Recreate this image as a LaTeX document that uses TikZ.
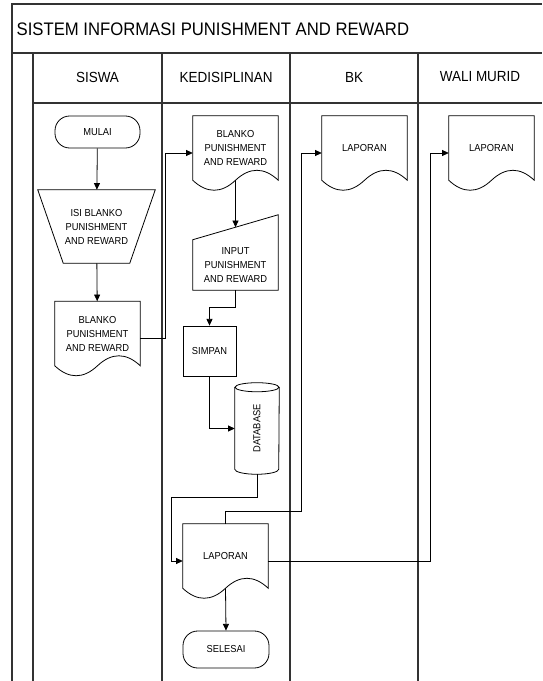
\documentclass[tikz,border=0pt]{standalone}
\usepackage{fontspec}
\setmainfont{Liberation Sans}[FakeStretch=0.92]
\usetikzlibrary{arrows.meta,calc}
% outlines drawn from the anchors of a plain node
\newcommand{\docoutline}[1]{%
  \draw[shp] (#1.south west) -- (#1.north west) -- (#1.north east) -- (#1.south east)
    .. controls ($(#1.south east)+(-14.2,-13.3)$) and ($(#1.south)+(14.2,-13.3)$) .. (#1.south)
    .. controls ($(#1.south)+(-14.2,13.3)$) and ($(#1.south west)+(14.2,13.3)$) .. (#1.south west) -- cycle;}
\newcommand{\inputoutline}[1]{%
  \draw[shp] (#1.south west) -- (#1.north west) -- ($(#1.north east)+(0,-25)$) -- (#1.south east) -- cycle;}
\newcommand{\trapoutline}[1]{%
  \draw[shp] (#1.north west) -- (#1.north east) -- ($(#1.south east)+(-25.5,0)$) -- ($(#1.south west)+(25.5,0)$) -- cycle;}
\newcommand{\dboutline}[1]{%
  \draw[shp] ($(#1.north west)+(0,4.5)$) -- ($(#1.south west)+(0,-5)$)
    arc[start angle=180, end angle=360, x radius=16.5pt, y radius=3.75pt] -- ($(#1.north east)+(0,4.5)$);
  \draw[shp] ($(#1.north)+(0,4.5)$) ellipse[x radius=16.5pt, y radius=3.4pt];}

\begin{document}
\begin{tikzpicture}[
  x=0.75pt, y=-0.75pt,
  font=\fontsize{7.6}{10.5}\selectfont,
  shp/.style={line width=0.6pt},
  lane/.style={line width=1pt, draw=black!80},
  head/.style={font=\fontsize{11}{13}\selectfont},
  term/.style={draw, line width=0.6pt, rounded corners=11pt, align=center, minimum width=63.75pt, minimum height=24pt},
  trap/.style={align=center, inner sep=0pt, minimum width=87.75pt, minimum height=54.75pt},
  doc/.style={align=center, inner sep=0pt, minimum width=63.75pt, minimum height=48pt},
  inp/.style={align=center, inner sep=0pt, minimum width=63.75pt, minimum height=37.5pt},
  proc/.style={draw, line width=0.6pt, align=center, minimum width=39.75pt, minimum height=37.5pt},
  db/.style={inner sep=0pt, minimum width=33pt, minimum height=68.25pt},
  arr/.style={-{Triangle[length=5pt, width=4.5pt]}, line width=0.6pt}]
\useasboundingbox (0,0) rectangle (542,681);
% pool and lanes
\draw[lane] (12,681) -- (12,4) -- (542,4);
\draw[lane] (12,53) -- (542,53);
\draw[lane] (33,103) -- (542,103);
\foreach \x in {33,162,290,418} \draw[lane] (\x,53) -- (\x,681);
\node[anchor=west, font=\fontsize{13.6}{15}\selectfont] (title) at (12,29) {SISTEM INFORMASI PUNISHMENT AND REWARD};
\node[head] (hSiswa) at (97.5,77) {SISWA};
\node[head] (hKedis) at (226,77) {KEDISIPLINAN};
\node[head] (hBK) at (354,77) {BK};
\node[head] (hWali) at (480,77) {WALI MURID};
% siswa
\node[term] (mulai) at (97.5,132) {MULAI};
\node[trap] (isi) at (96.5,226.5) {ISI BLANKO\\PUNISHMENT\\AND REWARD};
\node[doc] (blankoS) at (97.5,333.5) {BLANKO\\PUNISHMENT\\AND REWARD};
% kedisiplinan
\node[doc] (blankoK) at (235.5,148) {BLANKO\\PUNISHMENT\\AND REWARD};
\node[inp] (inputK) at (235.5,265) {INPUT\\PUNISHMENT\\AND REWARD};
\node[proc] (simpan) at (209.5,351) {SIMPAN};
\node[db] (db) at (257,428.5) {\rotatebox{90}{DATABASE}};
\node[doc] (lapK) at (225.5,556) {LAPORAN};
\node[term, minimum width=64.5pt, minimum height=27.75pt] (selesai) at (226,649.5) {SELESAI};
% bk, wali murid
\node[doc] (lapBK) at (364.5,148) {LAPORAN};
\node[doc] (lapWM) at (491.5,148) {LAPORAN};
\trapoutline{isi}
\docoutline{blankoS} \docoutline{blankoK} \docoutline{lapK} \docoutline{lapBK} \docoutline{lapWM}
\inputoutline{inputK}
\dboutline{db}
% flow
\draw[arr] (mulai) -- (isi);
\draw[arr] (isi) -- (blankoS);
\draw[arr] ($(blankoS.east)+(0,5)$) -- ++(25,0) |- ($(blankoK.west)+(0,5)$);
\draw[arr] (blankoK.south) -- ($(inputK.north)+(0,-12.5)$);
\draw[arr] (inputK.south) -- ++(0,17) -| (simpan.north);
\draw[arr] (simpan.south) |- (db.west);
\draw[arr] (db.south) -- ++(0,23) -- ++(-86,0) |- ($(lapK.west)+(0,5)$);
\draw[arr] (lapK.north) -- ++(0,-12) -- ++(76,0) |- ($(lapBK.west)+(0,5)$);
\draw[arr] ($(lapK.east)+(0,5)$) -- ++(162,0) |- ($(lapWM.west)+(0,5)$);
\draw[arr] (lapK.south) -- (selesai.north);
\end{tikzpicture}
\end{document}
